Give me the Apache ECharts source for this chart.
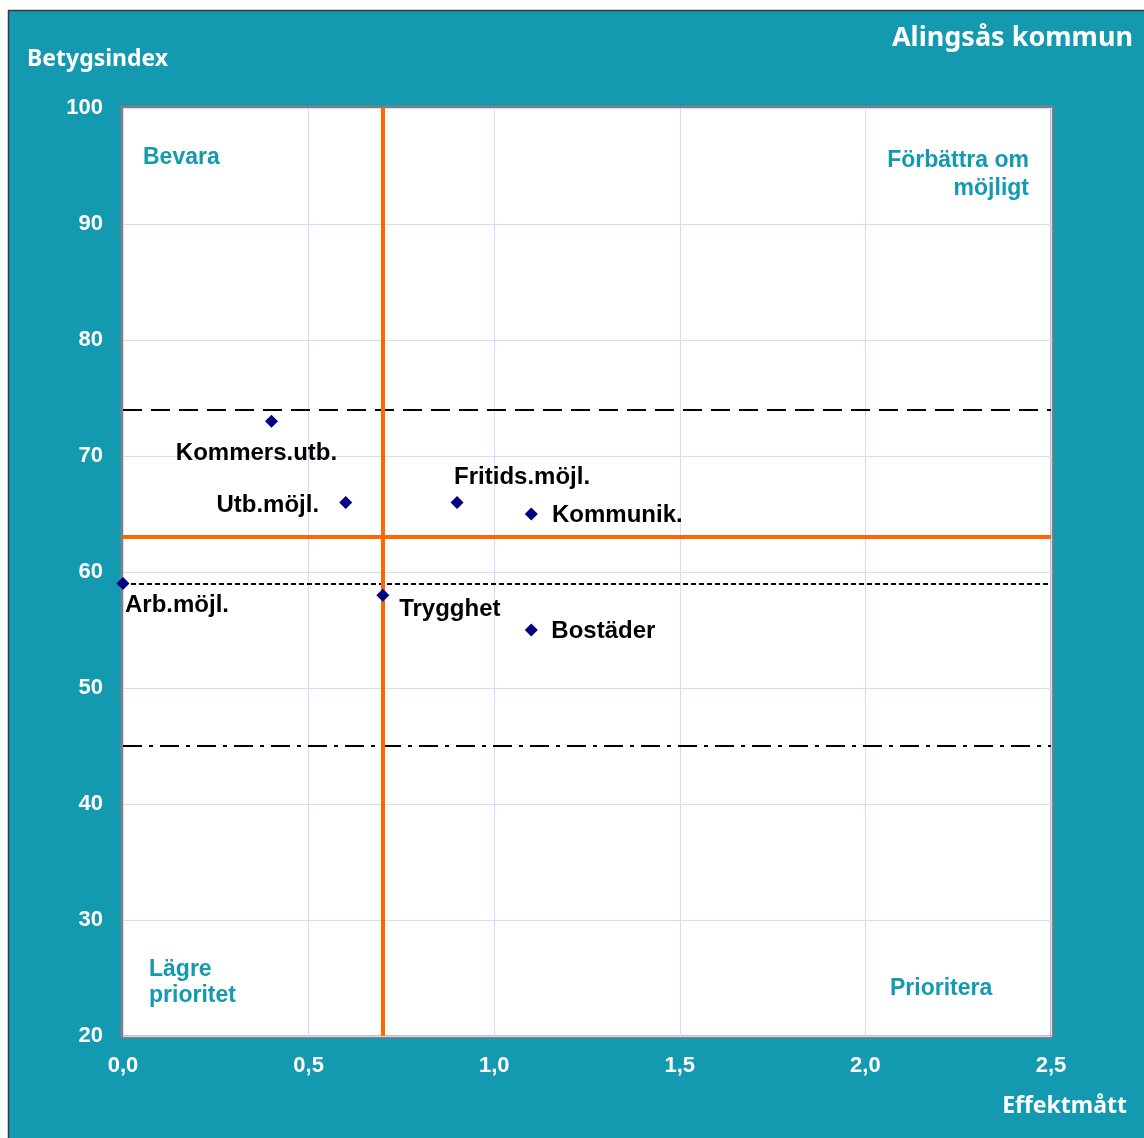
<!DOCTYPE html>
<html><head><meta charset="utf-8">
<script src="https://cdn.jsdelivr.net/npm/echarts@6/dist/echarts.min.js"></script>
<style>html,body{margin:0;padding:0;background:#fff;}#c{width:1144px;height:1138px;}</style>
</head><body><div id="c"></div>
<script>
const names = ['Kommers.utb.','Utb.möjl.','Fritids.möjl.','Kommunik.','Arb.möjl.','Trygghet','Bostäder'];
const effekt = [0.4, 0.6, 0.9, 1.1, 0.0, 0.7, 1.1];
const betyg = [73, 66, 66, 65, 59, 58, 55];
const xTicks = [0, 0.5, 1.0, 1.5, 2.0, 2.5];
const yTicks = [20, 30, 40, 50, 60, 70, 80, 90, 100];
const medelEffekt = 0.7;
const medelBetyg = 63;
const refDashed = 74;
const refDotted = 59;
const refDashDot = 45;

// label placement per point (style only), offsets from symbol centre
const labelOffsets = [[-15,32],[-78,3],[65,-25],[86,1],[54,22],[67,14],[72,1]];

const chart = echarts.init(document.getElementById('c'));
const teal = '#1399B0';
const FF = 'Arial, "Liberation Sans", sans-serif';
const lbl = {color:'#fff', fontWeight:'bold', fontFamily:FF, fontSize:22};
const qFont = 'bold 23px Arial, "Liberation Sans", sans-serif';

chart.setOption({
  animation:false,
  backgroundColor:'#fff',
  graphic:[
    {type:'rect', z:-10, shape:{x:8.5,y:10.5,width:1140,height:1132}, style:{fill:teal, stroke:'#3a3a3a', lineWidth:1.5}},
    {type:'rect', z:-5, shape:{x:122,y:107,width:930,height:930}, style:{fill:'#fff', stroke:'#808080', lineWidth:3}},
    {type:'text', left:27, top:48, style:{text:'Betygsindex', fill:'#fff', font:'bold 23px "Noto Sans"'}},
    {type:'text', right:11, top:25, style:{text:'Alingsås kommun', fill:'#fff', font:'bold 27px "Noto Sans"'}},
    {type:'text', right:17, top:1095, style:{text:'Effektmått', fill:'#fff', font:'bold 23px "Noto Sans"'}},
    {type:'text', left:143, top:146, z:50, style:{text:'Bevara', fill:teal, font:qFont}},
    {type:'text', right:115, top:149, z:50, style:{text:'Förbättra om', fill:teal, font:qFont}},
    {type:'text', right:115, top:177, z:50, style:{text:'möjligt', fill:teal, font:qFont}},
    {type:'text', left:149, top:958, z:50, style:{text:'Lägre', fill:teal, font:qFont}},
    {type:'text', left:149, top:984, z:50, style:{text:'prioritet', fill:teal, font:qFont}},
    {type:'text', left:890, top:977, z:50, style:{text:'Prioritera', fill:teal, font:qFont}}
  ],
  grid:{left:123, top:108, right:93, bottom:102, show:false},
  xAxis:{type:'value', min:xTicks[0], max:xTicks[xTicks.length-1], interval:0.5,
    axisLine:{show:false}, axisTick:{show:false},
    splitLine:{lineStyle:{color:'#d8d8ff', width:1}},
    axisLabel:Object.assign({margin:19, formatter:v=>v.toFixed(1).replace('.',','), showMinLabel:true, showMaxLabel:true}, lbl)},
  yAxis:{type:'value', min:yTicks[0], max:yTicks[yTicks.length-1], interval:10,
    axisLine:{show:false}, axisTick:{show:false},
    splitLine:{lineStyle:{color:'#d8d8ff', width:1}},
    axisLabel:Object.assign({margin:20}, lbl)},
  series:[
    {type:'scatter', z:5, symbol:'none', data:[],
     markLine:{silent:true, symbol:'none', label:{show:false}, animation:false,
       data:[
         {yAxis:refDashed, lineStyle:{color:'#000', width:2, type:[19,9], opacity:1}},
         {yAxis:refDotted, lineStyle:{color:'#000', width:2, type:[5,3], opacity:1}},
         {yAxis:refDashDot, lineStyle:{color:'#000', width:2, type:[19,7,4,7], opacity:1}},
         {yAxis:medelBetyg, lineStyle:{color:'#FF6600', width:4, type:'solid', opacity:1}},
         {xAxis:medelEffekt, lineStyle:{color:'#FF6600', width:4, type:'solid', opacity:1}}
       ]}},
    {type:'scatter', z:10, symbol:'diamond', symbolSize:13,
     itemStyle:{color:'#000080', opacity:1},
     data: names.map((n,i)=>({value:[effekt[i], betyg[i]], name:n,
        label:{show:true, position:'inside', offset:labelOffsets[i], formatter:n, color:'#000', fontWeight:'bold', fontFamily:FF, fontSize:24}}))}
  ]
});
</script></body></html>
